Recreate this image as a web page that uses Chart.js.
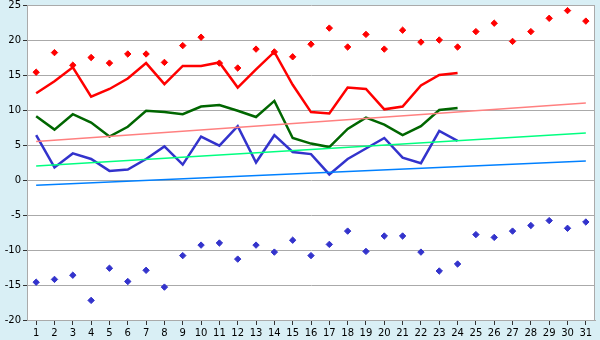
<!DOCTYPE html>
<html>
<head>
<meta charset="utf-8">
<script src="https://cdn.jsdelivr.net/npm/chart.js@4/dist/chart.umd.min.js"></script>
<style>
html,body{margin:0;padding:0;background:#d9eff5;}
#wrap{width:600px;height:340px;position:relative;}
</style>
</head>
<body>
<div id="wrap"><canvas id="c" width="600" height="340"></canvas></div>
<script>
const days = ['1','2','3','4','5','6','7','8','9','10','11','12','13','14','15','16','17','18','19','20','21','22','23','24','25','26','27','28','29','30','31'];
const maxPoints = [15.4,18.2,16.4,17.5,16.7,18.0,18.0,16.8,19.2,20.4,16.7,16.0,18.7,18.3,17.6,19.4,21.7,19.0,20.8,18.7,21.4,19.7,20.0,19.0,21.2,22.4,19.8,21.2,23.1,24.2,22.7];
const minPoints = [-14.6,-14.2,-13.6,-17.2,-12.6,-14.5,-12.9,-15.3,-10.8,-9.3,-9.0,-11.3,-9.3,-10.3,-8.6,-10.8,-9.2,-7.3,-10.2,-8.0,-8.0,-10.3,-13.0,-12.0,-7.8,-8.2,-7.3,-6.5,-5.8,-6.9,-6.0];
const maxLine = [12.4,14.1,16.1,11.9,13.0,14.5,16.7,13.7,16.3,16.3,16.8,13.2,15.8,18.3,13.6,9.7,9.5,13.2,13.0,10.1,10.5,13.5,15.0,15.3];
const meanLine = [9.1,7.2,9.4,8.2,6.2,7.6,9.9,9.7,9.4,10.5,10.7,9.9,9.0,11.3,6.0,5.2,4.7,7.3,8.9,7.9,6.4,7.7,10.0,10.3];
const minLine = [6.4,1.8,3.8,3.0,1.3,1.5,3.0,4.8,2.2,6.2,4.9,7.7,2.5,6.4,4.0,3.7,0.8,3.0,4.5,6.0,3.2,2.4,7.0,5.6];
const trendMax = [5.5, 11.0];
const trendMean = [2.0, 6.7];
const trendMin = [-0.75, 2.7];
const yTicks = [-20,-15,-10,-5,0,5,10,15,20,25];

function ends(arr){ return [{x:days[0],y:arr[0]},{x:days[days.length-1],y:arr[1]}]; }

const bgPlugin = {
  id:'bg',
  beforeDraw(chart){
    const {ctx, chartArea:a} = chart;
    ctx.save();
    ctx.fillStyle='#d9eff5';
    ctx.fillRect(0,0,chart.width,chart.height);
    ctx.fillStyle='#ffffff';
    ctx.fillRect(a.left,a.top,a.right-a.left,a.bottom-a.top);
    ctx.restore();
  },
  afterDatasetsDraw(chart){
    const {ctx, chartArea:a} = chart;
    ctx.save();
    ctx.strokeStyle='#aaaaaa';
    ctx.lineWidth=1;
    ctx.beginPath();
    const r = Math.round(a.right)-0.5;
    ctx.moveTo(r, Math.round(a.top)); ctx.lineTo(r, Math.round(a.bottom));
    ctx.stroke();
    ctx.restore();
  }
};

const mainLine = (label,data,color)=>({type:'line',label,data,borderColor:color,backgroundColor:color,borderWidth:2.5,pointRadius:0,tension:0,fill:false});
const trend = (label,arr,color)=>({type:'line',label,data:ends(arr),borderColor:color,borderWidth:1.5,pointRadius:0,tension:0,fill:false});
const pts = (label,data,color)=>({type:'line',label,data,showLine:false,borderColor:color,backgroundColor:color,pointStyle:'rectRot',pointRadius:3.2,pointBorderWidth:1,pointHoverRadius:3});

new Chart(document.getElementById('c'),{
  data:{
    labels:days,
    datasets:[
      trend('trendMax',trendMax,'#ff8080'),
      trend('trendMean',trendMean,'#00ff80'),
      trend('trendMin',trendMin,'#0080ff'),
      mainLine('max',maxLine,'#ff0000'),
      mainLine('mean',meanLine,'#006600'),
      mainLine('min',minLine,'#3333cc'),
      pts('maxPts',maxPoints,'#ff0000'),
      pts('minPts',minPoints,'#3333cc')
    ]
  },
  options:{
    responsive:false,
    animation:false,
    devicePixelRatio:1,
    layout:{padding:{top:5,right:5,left:0,bottom:0}},
    plugins:{legend:{display:false},tooltip:{enabled:false}},
    scales:{
      x:{
        type:'category',
        offset:true,
        grid:{display:true,drawOnChartArea:false,drawTicks:true,tickLength:5,color:'#333333',offset:false},
        border:{display:true,color:'#aaaaaa'},
        ticks:{color:'#000',font:{family:'DejaVu Sans',size:10},padding:2,maxRotation:0,autoSkip:false},
        afterFit(s){s.height=20;s.paddingLeft=0;s.paddingRight=0;}
      },
      y:{
        min:-20,max:25,
        afterBuildTicks(s){s.ticks=yTicks.map(v=>({value:v}));},
        grid:{color:'#aaaaaa',drawTicks:true,tickLength:4,lineWidth:1,tickColor:'#333333'},
        border:{display:true,color:'#aaaaaa'},
        ticks:{color:'#000',font:{family:'DejaVu Sans',size:10},padding:2},
        afterFit(s){s.width=27;s.paddingTop=0;s.paddingBottom=0;}
      }
    }
  },
  plugins:[bgPlugin]
});
</script>
</body>
</html>
